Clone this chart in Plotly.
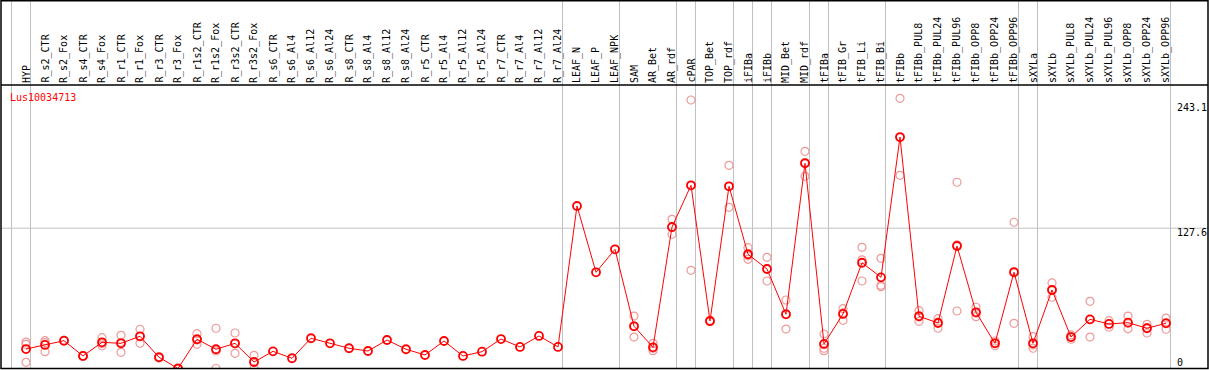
import plotly.graph_objects as go

categories = ["HYP", "R_s2_CTR", "R_s2_Fox", "R_s4_CTR", "R_s4_Fox", "R_r1_CTR", "R_r1_Fox",
              "R_r3_CTR", "R_r3_Fox", "R_r1s2_CTR", "R_r1s2_Fox", "R_r3s2_CTR", "R_r3s2_Fox",
              "R_s6_CTR", "R_s6_Al4", "R_s6_Al12", "R_s6_Al24", "R_s8_CTR", "R_s8_Al4", "R_s8_Al12",
              "R_s8_Al24", "R_r5_CTR", "R_r5_Al4", "R_r5_Al12", "R_r5_Al24", "R_r7_CTR", "R_r7_Al4",
              "R_r7_Al12", "R_r7_Al24", "LEAF_N", "LEAF_P", "LEAF_NPK", "SAM", "AR_Bet", "AR_rdf",
              "cPAR", "TOP_Bet", "TOP_rdf", "iFIBa", "iFIBb", "MID_Bet", "MID_rdf", "tFIBa",
              "tFIB_Gr", "tFIB_Li", "tFIB_Bi", "tFIBb", "tFIBb_PUL8", "tFIBb_PUL24", "tFIBb_PUL96",
              "tFIBb_OPP8", "tFIBb_OPP24", "tFIBb_OPP96", "sXYLa", "sXYLb", "sXYLb_PUL8",
              "sXYLb_PUL24", "sXYLb_PUL96", "sXYLb_OPP8", "sXYLb_OPP24", "sXYLb_OPP96"]

mean_values = [17.7, 21.4, 25.3, 11.4, 23.8, 22.9, 29.3, 10.2, 0.0, 26.6, 17.5, 22.9, 5.9,
               15.6, 9.3, 27.5, 22.9, 18.4, 15.9, 25.9, 17.5, 12.3, 25.0, 11.4, 15.3, 26.8, 19.6,
               29.6, 19.6, 147.8, 87.5, 108.4, 38.4, 19.3, 128.7, 166.6, 43.2, 165.7, 103.9, 90.5,
               49.3, 186.6, 22.3, 49.6, 96.2, 82.9, 210.5, 47.5, 41.4, 111.4, 51.1, 22.9, 87.5,
               22.9, 71.4, 28.6, 44.7, 40.5, 41.7, 36.6, 41.1]

N = None
rep1 = [24.0, 25.3, 25.5, 11.8, 28.0, 30.2, 35.7, 10.8, 0.0, 31.7, 36.6, 32.3, 12.0,
        N, N, N, N, N, N, N, N, N, N, N, N, N, N, N, N, N, N, N,
        47.7, 22.9, 135.7, 244.2, 43.6, 184.8, 109.9, 101.1, 62.3, 197.5, 31.4, 54.4, 110.2,
        100.2, 245.7, 52.6, 45.3, 169.4, 55.7, 25.0, 133.0, 28.9, 77.8, 30.5, 61.1, 43.5,
        47.7, 40.2, 45.9]
rep2 = [5.6, 15.3, 25.0, 11.0, 20.7, 14.7, 22.9, 9.6, 0.0, 22.0, 0.0, 13.8, 0.0,
        N, N, N, N, N, N, N, N, N, N, N, N, N, N, N, N, N, N, N,
        28.6, 16.2, 122.1, 89.3, 42.5, 146.6, 99.3, 79.6, 35.9, 174.8, 16.2, 43.8, 79.6,
        74.4, 175.7, 42.9, 36.6, 52.3, 47.1, 20.7, 41.1, 18.4, 64.8, 26.6, 28.6, 37.5,
        36.2, 32.3, 35.7]
rep3 = [22.0, 23.6, 25.2, 11.4, 22.7, 23.8, 29.3, 10.2, 0.0, 26.1, 15.9, 22.6, 5.7,
        N, N, N, N, N, N, N, N, N, N, N, N, N, N, N, N, N, N, N,
        38.9, 18.4, 128.3, 166.3, 43.5, 165.7, 102.5, 90.8, 49.7, 187.5, 18.4, 50.6, 98.8,
        75.7, 210.0, 47.0, 42.3, 112.5, 50.5, 23.0, 88.4, 21.4, 71.6, 28.7, 44.4, 40.5,
        41.2, 37.3, 41.7]

gene_name = "Lus10034713"
axis_labels = ["243.1", "127.6", "0"]
gridline_value = 127.6
group_starts = [0, 1, 29, 32, 35, 36, 38, 39, 40, 42, 43, 46, 53, 54, 61]

W, H = 1209, 370
TOP, BOT = 85, 1
plot_h = H - TOP - BOT
x0_px, dx_px = 26.0, 19.0
y0_px, k = 368.5, 1.0995

def py(p):  # pixel y -> paper y
    return (H - BOT - p) / plot_h

def px(p):  # pixel x -> paper x
    return p / W

xs = list(range(len(categories)))
fig = go.Figure()

for reps in (rep1, rep2, rep3):
    fig.add_trace(go.Scatter(x=xs, y=reps, mode="markers",
                             marker=dict(symbol="circle-open", size=8, color="#ee9a9a",
                                         line=dict(width=1.2, color="#ee9a9a")),
                             hoverinfo="skip", showlegend=False))

fig.add_trace(go.Scatter(x=xs, y=mean_values, mode="lines+markers",
                         line=dict(color="#ff0000", width=1),
                         marker=dict(symbol="circle-open", size=8, color="#ff0000",
                                     line=dict(width=1.8, color="#ff0000")),
                         showlegend=False))

shapes = []
shapes.append(dict(type="line", xref="paper", yref="y", x0=px(1), x1=px(1208),
                   y0=gridline_value, y1=gridline_value,
                   line=dict(color="#c0c0c0", width=1), layer="below"))
for g in group_starts:
    xg = g - 14.5 / dx_px
    shapes.append(dict(type="line", xref="x", yref="paper", x0=xg, x1=xg,
                       y0=py(368.5), y1=py(0.5),
                       line=dict(color="#c0c0c0", width=1), layer="below"))
shapes.append(dict(type="rect", xref="paper", yref="paper", x0=px(1), x1=px(1208),
                   y0=py(368.5), y1=py(0.8), line=dict(color="black", width=1.5)))
shapes.append(dict(type="line", xref="paper", yref="paper", x0=px(1), x1=px(1208),
                   y0=1, y1=1, line=dict(color="black", width=1.5)))

font = dict(family="DejaVu Sans Mono", size=10, color="black")
annotations = []
for i, c in enumerate(categories):
    annotations.append(dict(x=i, y=1, xref="x", yref="paper", text=c, textangle=-90,
                            xanchor="center", yanchor="bottom", showarrow=False,
                            font=font))
annotations.append(dict(x=px(8), y=py(97), xref="paper", yref="paper", text=gene_name,
                        xanchor="left", yanchor="middle", showarrow=False,
                        font=dict(family="DejaVu Sans Mono", size=10, color="#ff0000")))
for lab, yp in zip(axis_labels, [107, 232, 362]):
    annotations.append(dict(x=px(1175), y=py(yp), xref="paper", yref="paper", text=lab,
                            xanchor="left", yanchor="middle", showarrow=False, font=font))

xr = [(0 - x0_px) / dx_px, (W - x0_px) / dx_px]
yr = [(y0_px - (H - BOT)) / k, (y0_px - TOP) / k]

fig.update_layout(
    width=W, height=H,
    margin=dict(l=0, r=0, t=TOP, b=BOT, pad=0),
    paper_bgcolor="white", plot_bgcolor="white",
    xaxis=dict(range=xr, showgrid=False, zeroline=False, showticklabels=False,
               ticks="", showline=False, fixedrange=True),
    yaxis=dict(range=yr, showgrid=False, zeroline=False, showticklabels=False,
               ticks="", showline=False, fixedrange=True),
    shapes=shapes, annotations=annotations, showlegend=False,
)

fig.write_html("out.html", config={"displayModeBar": False},
               post_script="document.body.style.margin='0';document.body.style.overflow='hidden';")
